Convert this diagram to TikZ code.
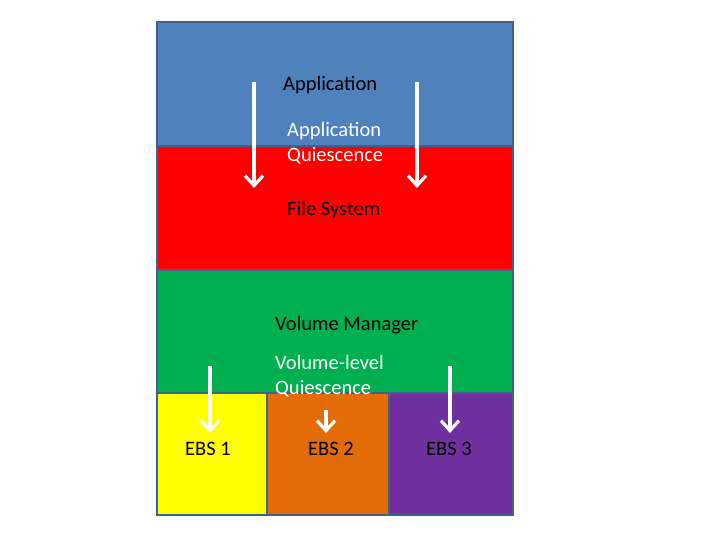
\documentclass[tikz,border=0pt]{standalone}
\usepackage{fontspec}
\setmainfont{Carlito}
\usepackage{tikz}
\usetikzlibrary{positioning,arrows.meta}
\definecolor{appblue}{HTML}{4F81BD}
\definecolor{fsred}{HTML}{FF0000}
\definecolor{vmgreen}{HTML}{00B050}
\definecolor{ebsyellow}{HTML}{FFFF00}
\definecolor{ebsorange}{HTML}{E36C09}
\definecolor{ebspurple}{HTML}{7030A0}
\definecolor{edgeblue}{HTML}{41618A}

\begin{document}
\begin{tikzpicture}[x=1pt,y=-1pt,
    layer/.style={draw=edgeblue,line width=1.2pt,inner sep=0pt,outer sep=0pt,minimum width=356pt,minimum height=124pt},
    ebs/.style={draw=edgeblue,line width=1.2pt,inner sep=0pt,outer sep=0pt,minimum height=122pt},
    lbl/.style={inner sep=0pt,font=\fontsize{20.5}{25}\selectfont,text=black},
    note/.style={inner sep=0pt,font=\fontsize{20.5}{25}\selectfont,text=white,align=left},
    quiesce/.style={draw=white,line width=3.2pt,-{Straight Barb[length=10pt,width=18pt]}}]
  \useasboundingbox (0,0) rectangle (704,554);
  % stack of layers
  \node[layer,fill=appblue,anchor=north west](app) at (157,22){};
  \node[layer,fill=fsred,below=0pt of app](fs){};
  \node[layer,fill=vmgreen,below=0pt of fs,minimum height=123pt](vm){};
  \node[ebs,fill=ebsyellow,minimum width=110pt,anchor=north west](ebs1) at (vm.south west){};
  \node[ebs,fill=ebsorange,minimum width=122pt,right=0pt of ebs1](ebs2){};
  \node[ebs,fill=ebspurple,minimum width=124pt,right=0pt of ebs2](ebs3){};
  % texts
  \node[lbl,anchor=base west](appname) at (283,90){Application};
  \node[lbl,anchor=base west](fsname) at (287,215){File System};
  \node[lbl,anchor=base west](vmname) at (275,330){Volume Manager};
  \node[lbl,anchor=base west](ebs1name) at (185,455){EBS 1};
  \node[lbl,anchor=base west](ebs2name) at (308,455){EBS 2};
  \node[lbl,anchor=base west](ebs3name) at (426,455){EBS 3};
  \node[note,anchor=north west](appq) at (287,122){Application\\Quiescence};
  \node[note,anchor=north west](vmq) at (275,355){Volume-level\\Quiescence};
  % arrows
  \coordinate (a1s) at (254,82);  \coordinate (a1e) at (254,188);
  \coordinate (a2s) at (417,82);  \coordinate (a2e) at (417,188);
  \coordinate (b1s) at (210,366); \coordinate (b1e) at (210,433);
  \coordinate (b2s) at (326,410); \coordinate (b2e) at (326,433);
  \coordinate (b3s) at (450,366); \coordinate (b3e) at (450,433);
  \draw[quiesce](a1s)--(a1e);
  \draw[quiesce](a2s)--(a2e);
  \draw[quiesce](b1s)--(b1e);
  \draw[quiesce](b2s)--(b2e);
  \draw[quiesce](b3s)--(b3e);
\end{tikzpicture}
\end{document}
